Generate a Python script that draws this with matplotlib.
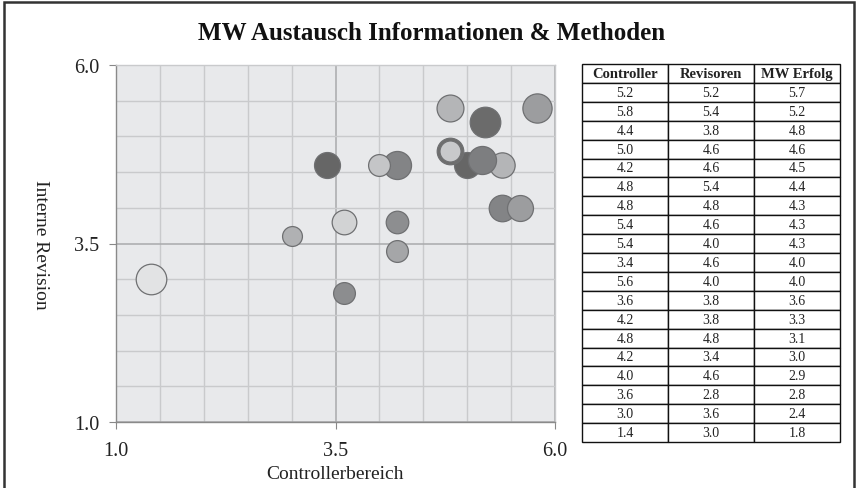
import matplotlib
matplotlib.use("Agg")
import matplotlib.pyplot as plt
from matplotlib.patches import Rectangle
import numpy as np

# ---- data -------------------------------------------------------------
title = "MW Austausch Informationen & Methoden"
x_label = "Controllerbereich"
y_label = "Interne Revision"
x_ticks = [1.0, 3.5, 6.0]
y_ticks = [1.0, 3.5, 6.0]

# bubbles (x = Controller, y = Revisoren, size value)
bubble_x = [1.4, 3.0, 3.6, 4.2, 4.2, 3.6, 4.2, 4.0, 3.4, 5.4, 5.6, 5.4, 5.0, 5.17, 4.8, 4.8, 4.8, 5.2, 5.8]
bubble_y = [3.0, 3.6, 2.8, 3.4, 3.8, 3.8, 4.6, 4.6, 4.6, 4.0, 4.0, 4.6, 4.6, 4.67, 4.8, 4.8, 5.4, 5.2, 5.4]
bubble_v = [5.7, 2.4, 2.9, 2.9, 3.1, 3.7, 4.8, 2.9, 4.1, 4.3, 4.1, 3.9, 4.1, 4.8, 4.3, 2.7, 4.4, 5.7, 5.2]
bubble_c = ["#e2e3e4", "#b0b1b3", "#8c8d8f", "#a5a6a8", "#8d8e90", "#d2d3d4",
            "#838486", "#c4c5c7", "#666666", "#838486", "#9c9d9f", "#b4b5b7",
            "#666666", "#7d7e80", "#6e6e6e", "#c8c9cb", "#b4b5b7", "#6b6b6b",
            "#9c9d9f"]

# table
col_labels = ["Controller", "Revisoren", "MW Erfolg"]
tab_controller = ["5.2", "5.8", "4.4", "5.0", "4.2", "4.8", "4.8", "5.4", "5.4", "3.4",
                  "5.6", "3.6", "4.2", "4.8", "4.2", "4.0", "3.6", "3.0", "1.4"]
tab_revisoren = ["5.2", "5.4", "3.8", "4.6", "4.6", "5.4", "4.8", "4.6", "4.0", "4.6",
                 "4.0", "3.8", "3.8", "4.8", "3.4", "4.6", "2.8", "3.6", "3.0"]
tab_erfolg = ["5.7", "5.2", "4.8", "4.6", "4.5", "4.4", "4.3", "4.3", "4.3", "4.0",
              "4.0", "3.6", "3.3", "3.1", "3.0", "2.9", "2.8", "2.4", "1.8"]

# ---- figure -----------------------------------------------------------
W, H = 856, 489
DPI = 100
plt.rcParams["font.family"] = ["Liberation Serif", "DejaVu Serif"]
fig = plt.figure(figsize=(W / DPI, H / DPI), dpi=DPI, facecolor="white")

def fx(px):
    return px / W

def fy(py):
    return 1 - py / H

# outer frame (bottom edge lies outside the picture)
fig.patches.append(Rectangle((fx(4), fy(495)), fx(850), 492 / H, transform=fig.transFigure,
                             fill=False, edgecolor="#333333", linewidth=1.8))

fig.text(fx(432), fy(33), title, ha="center", va="center",
         fontsize=18, fontweight="bold", color="#111111")

ax = fig.add_axes([fx(116), fy(423), fx(555 - 116), (423 - 66) / H])
ax.set_facecolor("#e8e9eb")
ax.set_xlim(1.0, 6.0)
ax.set_ylim(1.0, 6.0)
ax.set_xticks(x_ticks)
ax.set_yticks(y_ticks)
ax.set_xticklabels([f"{v:.1f}" for v in x_ticks])
ax.set_yticklabels([f"{v:.1f}" for v in y_ticks])
ax.set_xticks(np.arange(1.0, 6.01, 0.5), minor=True)
ax.set_yticks(np.arange(1.0, 6.01, 0.5), minor=True)
ax.grid(True, which="minor", color="#c9cacc", linewidth=1.0, zorder=0)
ax.grid(True, which="major", color="#a9aaac", linewidth=1.1, zorder=0)
ax.set_axisbelow(True)
ax.tick_params(which="minor", length=0)
ax.tick_params(which="major", length=5, direction="out", color="#888888",
               labelsize=14.5, labelcolor="#222222")
ax.tick_params(axis="x", pad=9)
ax.tick_params(axis="y", pad=7)
for s in ["left", "bottom"]:
    ax.spines[s].set_color("#8a8a8a")
    ax.spines[s].set_linewidth(1.0)
for s in ["top", "right"]:
    ax.spines[s].set_color("#c9cacc")
    ax.spines[s].set_linewidth(1.0)

ax.set_xlabel(x_label, fontsize=14, color="#222222", va="center")
ax.xaxis.set_label_coords((335 - 116) / (555 - 116), -(475 - 423) / (423 - 66))
ax.set_ylabel(y_label, fontsize=14, color="#222222", rotation=270, va="center")
ax.yaxis.set_label_coords(-(116 - 41) / (555 - 116), 0.5)

smax = 485.0
vmax = max(bubble_v)
for x, y, v, c in zip(bubble_x, bubble_y, bubble_v, bubble_c):
    ax.scatter([x], [y], s=v / vmax * smax, color=c, edgecolors="#6f7072",
               linewidths=0.9, zorder=3, clip_on=False)

# ---- table ------------------------------------------------------------
tax = fig.add_axes([fx(582), fy(443), fx(840 - 582), (443 - 65) / H])
tax.axis("off")
cell_text = [list(r) for r in zip(tab_controller, tab_revisoren, tab_erfolg)]
tbl = tax.table(cellText=cell_text, colLabels=col_labels, cellLoc="center",
                bbox=[0, 0, 1, 1])
tbl.auto_set_font_size(False)
for (r, c), cell in tbl.get_celld().items():
    cell.set_edgecolor("#111111")
    cell.set_linewidth(1.0)
    cell.set_facecolor("white")
    txt = cell.get_text()
    txt.set_fontsize(10)
    txt.set_color("#222222")
    if r == 0:
        txt.set_fontweight("bold")
        txt.set_fontsize(10.5)

fig.savefig("out.png", dpi=DPI, facecolor="white")
